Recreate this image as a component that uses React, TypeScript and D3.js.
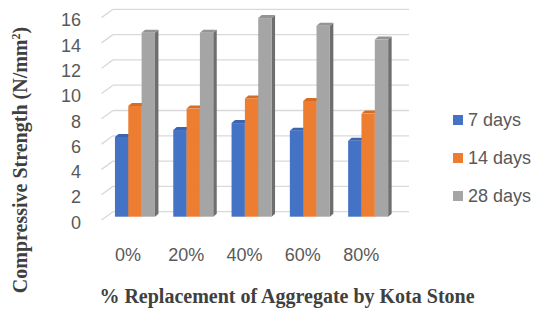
import * as d3 from 'd3';

// compressive strength (N/mm²) by % replacement of aggregate
const categories = ['0%', '20%', '40%', '60%', '80%'];
const seriesNames = ['7 days', '14 days', '28 days'];
const days7 = [6.3, 6.85, 7.4, 6.8, 6.0];
const days14 = [8.75, 8.55, 9.35, 9.15, 8.15];
const days28 = [14.55, 14.55, 15.7, 15.1, 14.0];
const yTicks = [0, 2, 4, 6, 8, 10, 12, 14, 16];

const colors = ['#4472C4', '#ED7D31', '#A5A5A5'];
const tops = ['#3b65b0', '#d66d25', '#949494'];
const sides = ['#2f528f', '#ae5a21', '#6e6e6e'];

const W = 535, H = 309;
const wallLeft = 113, wallRight = 409;
const depth = { dx: -11.5, dy: 8.3 }; // back wall -> front edge of floor
const barShift = { dx: -7, dy: 5 }; // back wall -> front face of bars
const barDepth = { dx: 3.5, dy: -3 };
const tickFont = '"Liberation Sans", Arial, sans-serif';
const titleFont = '"Liberation Serif", "Times New Roman", serif';

export default function App() {
  const series = [days7, days14, days28];
  const yBack = d3.scaleLinear().domain([0, 16]).range([211.7, 9.3]);
  const yBar = (v: number) => yBack(v) + barShift.dy;

  const x0 = d3.scaleBand().domain(categories).range([105.8, 397.3]).paddingInner(0.314).paddingOuter(0.157);
  const x1 = d3.scaleBand().domain(seriesNames).range([0, x0.bandwidth()]);

  return (
    <svg width={W} height={H} style={{ position: 'absolute', left: 0, top: 0, background: '#fff' }}>
      {/* gridlines on back wall + floor edge */}
      {yTicks.map(t => (
        <g key={t} stroke="#d9d9d9" strokeWidth={1.3} fill="none">
          <line x1={wallLeft} x2={wallRight} y1={yBack(t)} y2={yBack(t)} />
          <line x1={wallLeft} x2={wallLeft + depth.dx} y1={yBack(t)} y2={yBack(t) + depth.dy} />
        </g>
      ))}
      {yTicks.map(t => (
        <text key={'l' + t} x={81} y={yBack(t) + 17} textAnchor="end" fontFamily={tickFont} fontSize={18} fill="#595959">{t}</text>
      ))}

      {/* 3D bars */}
      {categories.map((c, i) => (
        <g key={c}>
          {series.map((s, k) => {
            const xl = (x0(c) as number) + (x1(seriesNames[k]) as number);
            const w = x1.bandwidth();
            const yt = yBar(s[i]);
            const yb = yBar(0);
            const { dx, dy } = barDepth;
            return (
              <g key={k}>
                <polygon points={`${xl + w},${yt} ${xl + w + dx},${yt + dy} ${xl + w + dx},${yb + dy} ${xl + w},${yb}`} fill={sides[k]} />
                <polygon points={`${xl},${yt} ${xl + dx},${yt + dy} ${xl + w + dx},${yt + dy} ${xl + w},${yt}`} fill={tops[k]} />
                <rect x={xl} y={yt} width={w} height={yb - yt} fill={colors[k]} />
              </g>
            );
          })}
          <text x={(x0(c) as number) + x0.bandwidth() / 2 - 7} y={261} textAnchor="middle" fontFamily={tickFont} fontSize={18} fill="#595959">{c}</text>
        </g>
      ))}

      {/* legend */}
      {seriesNames.map((n, k) => (
        <g key={n} transform={`translate(453,${120 + k * 38})`}>
          <rect x={0} y={-5} width={10} height={10} fill={colors[k]} />
          <text x={15} y={6} fontFamily={tickFont} fontSize={18} fill="#595959">{n}</text>
        </g>
      ))}

      {/* axis titles */}
      <text transform="translate(27,160) rotate(-90)" textAnchor="middle" fontFamily={titleFont} fontWeight="bold" fontSize={20} fill="#404040">
        Compressive Strength (N/mm<tspan dy={-7} fontSize={12}>2</tspan><tspan dy={7}>)</tspan>
      </text>
      <text x={287} y={303} textAnchor="middle" fontFamily={titleFont} fontWeight="bold" fontSize={20} fill="#404040">
        % Replacement of Aggregate by Kota Stone
      </text>
    </svg>
  );
}
